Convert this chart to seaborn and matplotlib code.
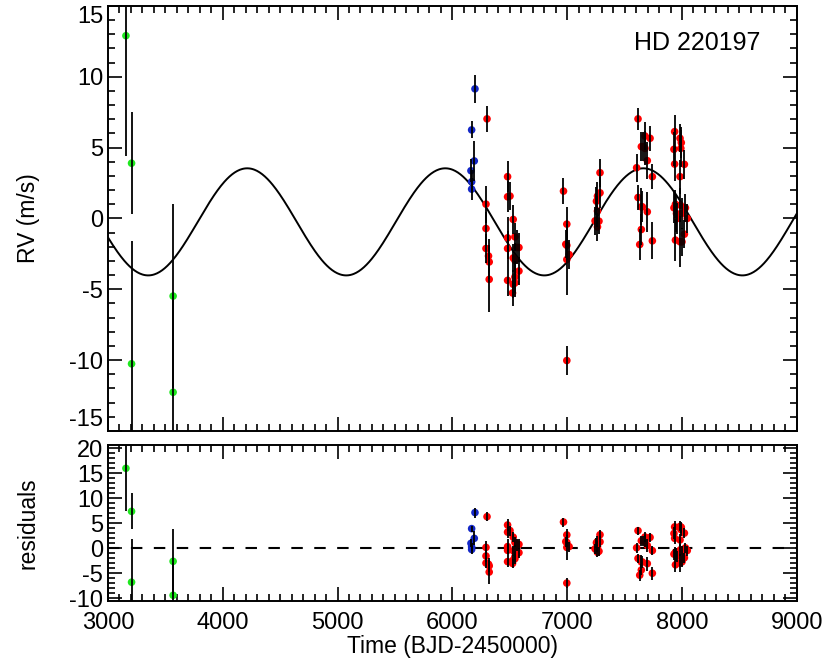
import numpy as np
import pandas as pd
import matplotlib
matplotlib.use("Agg")
import matplotlib.pyplot as plt
import seaborn as sns
from matplotlib.ticker import MultipleLocator


# ---------------------------------------
# Data
# ---------------------------------------
# instrument 1 (green)
t_green = [3157, 3206, 3206, 3568, 3568]
rv_green = [12.9, 3.9, -10.26, -5.48, -12.27]
err_green = [8.5, 3.6, 8.7, 6.5, 6.5]

# instrument 2 (blue)
t_blue = [6197, 6168, 6191, 6162, 6168, 6168]
rv_blue = [9.15, 6.25, 4.06, 3.37, 2.59, 2.07]
err_blue = [1.0, 0.6, 1.4, 0.8, 0.8, 0.8]

# instrument 3 (red)
t_red = [6302, 6293, 6293, 6293, 6315, 6321, 6321,
         6481, 6481, 6502, 6530, 6481, 6545, 6481, 6562, 6580, 6530, 6545,
         6580, 6481, 6545, 6530, 6545, 6524,
         6968, 6997, 6988, 6997, 7017, 6997, 6997,
         7286, 7286, 7264, 7255, 7264, 7243, 7277, 7264,
         7617, 7678, 7722, 7646, 7664, 7678, 7698, 7605, 7742, 7617, 7646,
         7655, 7698, 7646, 7632, 7742,
         7936, 7983, 7994, 7930, 7990, 7936, 8021, 7983, 7930, 7943, 7986,
         7952, 8000, 8030, 7960, 8046, 7943, 7983, 8000, 8021]
rv_red = [7.03, 1.01, -0.71, -2.12, -2.65, -3.07, -4.30,
          2.95, 1.53, 1.58, -0.07, -1.37, -1.30, -2.12, -2.05, -2.05, -2.79, -2.95,
          -3.71, -4.37, -4.13, -4.65, -4.55, -5.26,
          1.93, -0.40, -1.82, -1.90, -2.55, -2.90, -10.03,
          3.23, 1.81, 1.58, 1.22, 0.52, -0.17, -0.19, -0.59,
          7.03, 5.82, 5.66, 5.07, 5.07, 4.95, 4.08, 3.58, 2.95, 1.48, 0.82,
          0.82, 0.47, -0.78, -1.84, -1.58,
          6.13, 5.66, 5.35, 4.88, 4.95, 3.84, 3.82, 2.95, 0.75, 1.00, 0.94,
          0.35, 0.35, 0.75, 0.00, 0.00, -1.53, -1.65, -1.65, -1.11]
err_red = [0.9, 1.3, 1.2, 1.0, 1.2, 1.2, 2.3,
           1.1, 1.1, 1.0, 1.0, 1.5, 1.0, 1.2, 1.2, 1.0, 1.0, 1.2,
           1.0, 1.1, 1.1, 1.0, 1.0, 0.9,
           0.9, 1.2, 1.0, 1.0, 1.0, 2.5, 1.0,
           1.0, 1.1, 1.0, 1.0, 1.1, 1.0, 0.9, 1.0,
           0.8, 1.0, 0.9, 1.0, 1.0, 1.2, 1.3, 1.0, 0.9, 0.9, 1.3,
           1.1, 1.4, 1.1, 1.1, 1.3,
           1.2, 1.0, 1.1, 1.2, 1.3, 1.2, 1.0, 1.2, 1.1, 1.0, 1.2,
           1.3, 1.1, 1.0, 1.1, 1.0, 1.5, 1.8, 1.0, 1.0]

# sinusoidal orbit model
period = 1725.0
t_min = 3351.0
amp = 3.78
offset = -0.24

colors = {"green": "#1ee81e", "blue": "#1428c8", "red": "#ff0000"}


def model(t):
    t = np.asarray(t, dtype=float)
    return offset - amp * np.cos(2 * np.pi * (t - t_min) / period)


df = pd.concat([
    pd.DataFrame({"t": t_green, "rv": rv_green, "err": err_green, "inst": "green"}),
    pd.DataFrame({"t": t_blue, "rv": rv_blue, "err": err_blue, "inst": "blue"}),
    pd.DataFrame({"t": t_red, "rv": rv_red, "err": err_red, "inst": "red"}),
], ignore_index=True)
df["resid"] = df["rv"] - model(df["t"])

t_curve = np.linspace(3000, 9000, 800)
curve = pd.DataFrame({"t": t_curve, "rv": model(t_curve)})

# ---------------------------------------
# Plot
# ---------------------------------------
sns.set_style("ticks")
plt.rcParams['font.family'] = ['Liberation Sans', 'DejaVu Sans']
plt.rcParams['font.size'] = 16
plt.rcParams['axes.unicode_minus'] = False
for key in ["text.color", "axes.labelcolor", "xtick.color", "ytick.color",
            "axes.edgecolor"]:
    plt.rcParams[key] = "black"

fig = plt.figure(figsize=(8.3, 6.64), dpi=100)
ax1 = fig.add_axes([0.130, 0.351, 0.830, 0.640])
ax2 = fig.add_axes([0.130, 0.095, 0.830, 0.235])

# top panel model curve, then points + error bars on both panels
sns.lineplot(data=curve, x="t", y="rv", ax=ax1, color="k", lw=1.4, zorder=2)
for ax, ycol in [(ax1, "rv"), (ax2, "resid")]:
    sns.scatterplot(data=df, x="t", y=ycol, hue="inst", palette=colors, ax=ax,
                    s=30, linewidth=0, legend=False, zorder=3)
    ax.errorbar(df["t"], df[ycol], yerr=df["err"], fmt="none", ecolor="k",
                elinewidth=1.3, capsize=0, zorder=4)

ax2.axhline(0, color="k", lw=1.5, ls=(0, (5.5, 5.5)), zorder=1)

ax1.set_ylim(-15, 15)
ax2.set_ylim(-10.5, 20.7)
for ax in (ax1, ax2):
    ax.set_xlim(3000, 9000)
    ax.xaxis.set_major_locator(MultipleLocator(1000))
    ax.xaxis.set_minor_locator(MultipleLocator(100))
    ax.yaxis.set_major_locator(MultipleLocator(5))
    ax.yaxis.set_minor_locator(MultipleLocator(1))
    ax.tick_params(which="both", direction="in", top=True, right=True,
                   width=1.2, labelsize=17)
    ax.tick_params(which="major", length=10)
    ax.tick_params(which="minor", length=5)
    for sp in ax.spines.values():
        sp.set_linewidth(1.4)
    ax.yaxis.set_label_coords(-0.099, 0.5)

ax1.tick_params(labelbottom=False)
ax1.set_xlabel("")
ax1.set_ylabel("RV (m/s)", fontsize=16.5)
ax2.set_ylabel("residuals", fontsize=16.5)
ax2.set_xlabel("Time (BJD-2450000)", fontsize=16.5, labelpad=1)
ax2.tick_params(axis="x", pad=8)

ax1.text(0.855, 0.912, "HD 220197", transform=ax1.transAxes,
         ha="center", va="center", fontsize=18)

# keep the end labels of the top panel inside it, like the original
fig.canvas.draw()
for tick in ax1.yaxis.get_major_ticks():
    if np.isclose(tick.get_loc(), 15):
        tick.label1.set_verticalalignment("top")
    elif np.isclose(tick.get_loc(), -15):
        tick.label1.set_verticalalignment("bottom")

plt.savefig("out.png", dpi=100)
